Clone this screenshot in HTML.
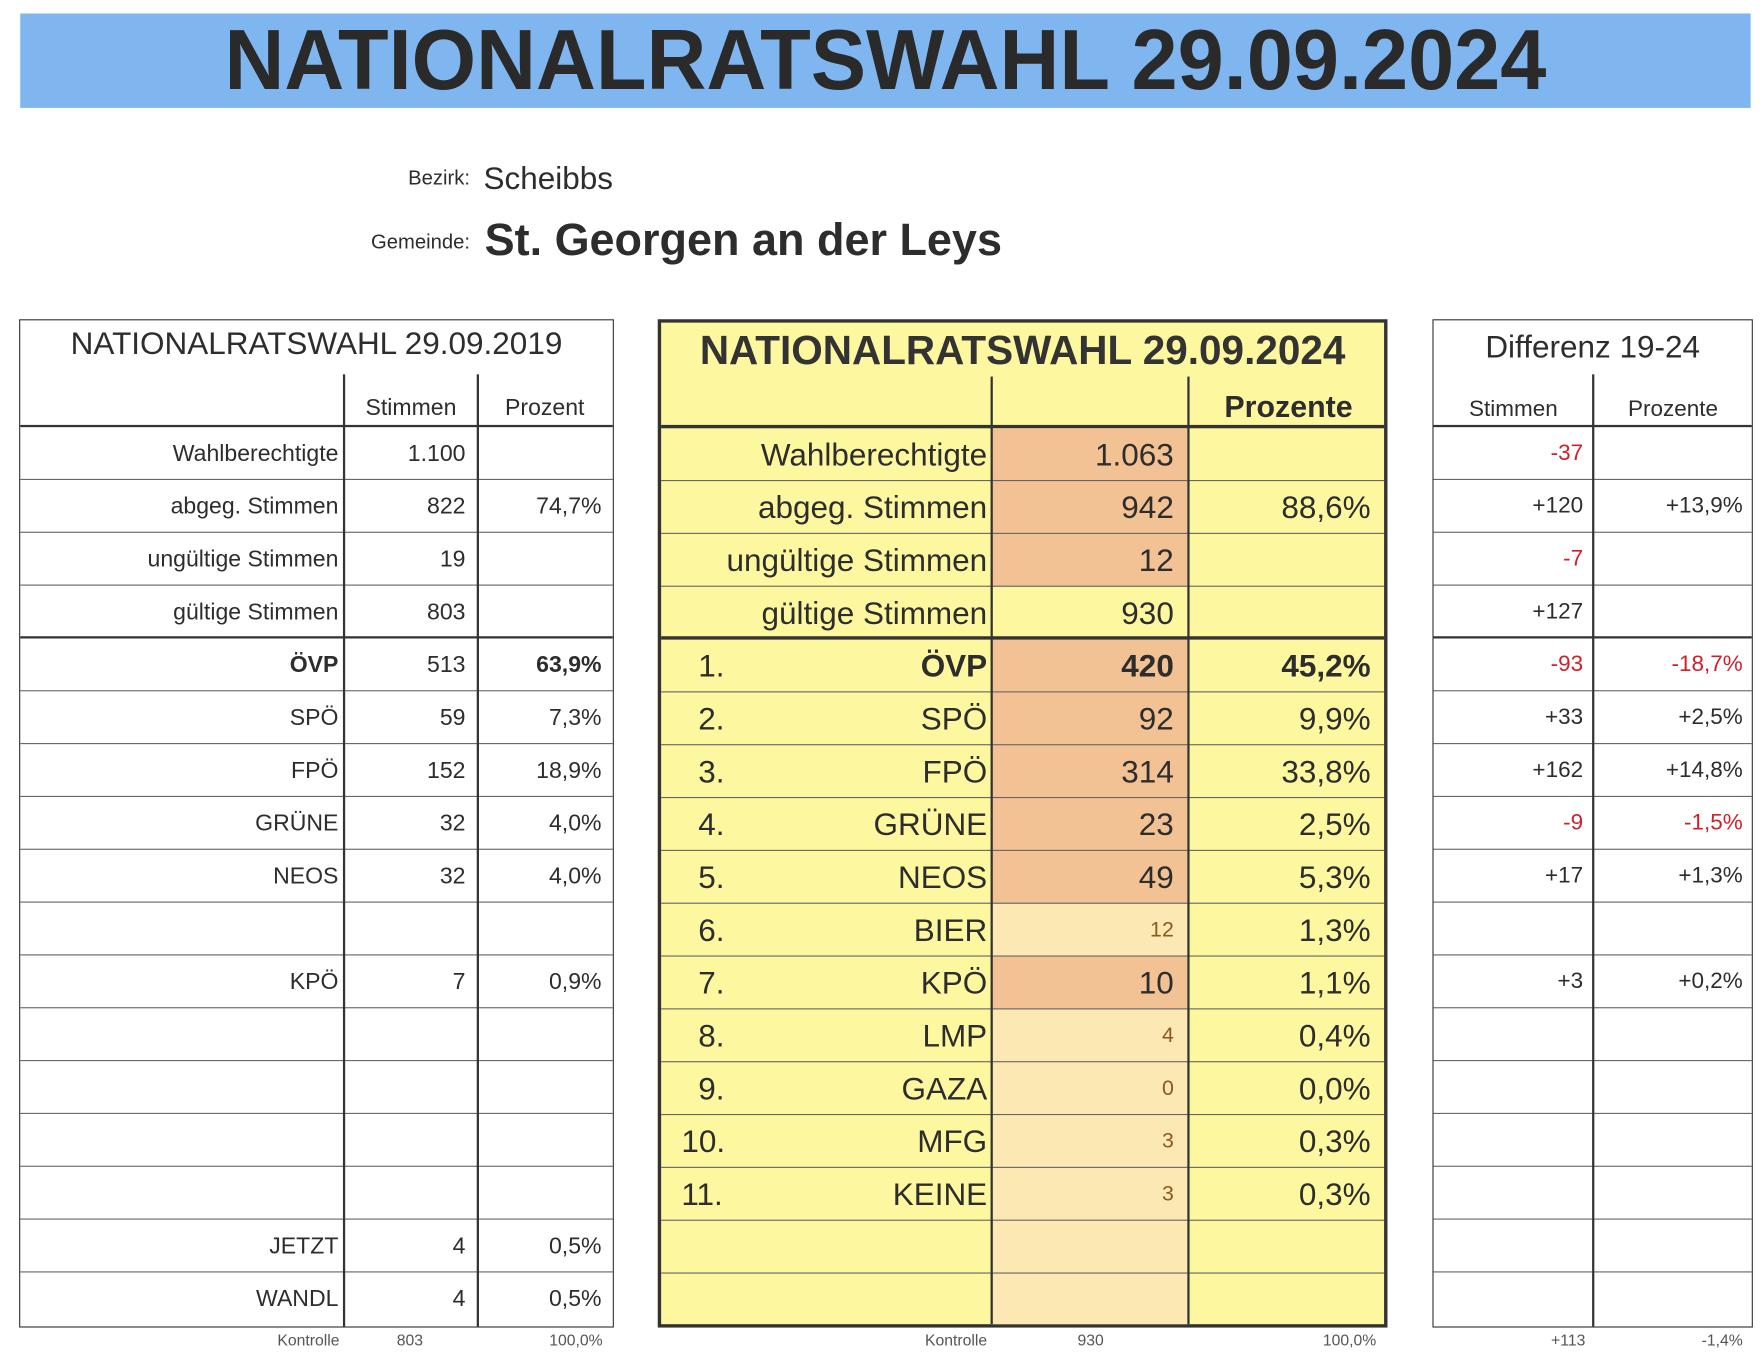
<!DOCTYPE html>
<html><head><meta charset="utf-8"><style>
body{margin:0;background:#fff;overflow:hidden;width:1763px;height:1368px}
#s{position:absolute;left:0;top:0;width:1568px;height:1217px;transform:scale(1.12436,1.1241);transform-origin:0 0;font-family:"Liberation Sans",sans-serif;color:#2d2d2d}
.a{position:absolute}
.t{position:absolute;border:1.5px solid #333;box-sizing:border-box}
.r{position:absolute;left:0;right:0;height:47px;border-bottom:1px solid #666;box-sizing:border-box}
.c{position:absolute;top:0;line-height:47px;white-space:nowrap}
.v{position:absolute;width:1.5px;background:#333}
.red{color:#d0202a}
.b{font-weight:bold}
</style></head><body><div id="s">
<div class="a" style="left:18px;top:12px;width:1539px;height:84px;background:#7fb6ef"></div>
<div class="a b" style="left:0px;top:12px;width:1575px;height:84px;line-height:84px;text-align:center;font-size:76px;color:#2a2a2a;transform:scaleX(0.97);transform-origin:center">NATIONALRATSWAHL 29.09.2024</div>
<div class="a" style="left:250px;width:168px;top:148px;text-align:right;font-size:18px">Bezirk:</div>
<div class="a" style="left:430px;top:143px;font-size:28px">Scheibbs</div>
<div class="a" style="left:250px;width:168px;top:205px;text-align:right;font-size:18px">Gemeinde:</div>
<div class="a b" style="left:431px;top:192px;font-size:40px">St. Georgen an der Leys</div>

<!-- LEFT TABLE -->
<div class="t" style="left:17px;top:284px;width:529px;height:897px;font-size:20.5px">
<div class="a" style="left:0;right:0;top:5px;text-align:center;font-size:28px">NATIONALRATSWAHL 29.09.2019</div>
<div class="a" style="left:288px;width:119px;top:66px;text-align:center">Stimmen</div>
<div class="a" style="left:407px;width:119px;top:66px;text-align:center">Prozent</div>
<div class="a" style="left:0;right:0;top:93px;height:2px;background:#333"></div>
<div class="a" style="left:0;right:0;top:95px">
<div class="r" style="top:0"><span class="c" style="right:244px">Wahlberechtigte</span><span class="c" style="right:131px">1.100</span></div>
<div class="r" style="top:47px"><span class="c" style="right:244px">abgeg. Stimmen</span><span class="c" style="right:131px">822</span><span class="c" style="right:10px">74,7%</span></div>
<div class="r" style="top:94px"><span class="c" style="right:244px">ungültige Stimmen</span><span class="c" style="right:131px">19</span></div>
<div class="r" style="top:141px;border-bottom:2px solid #333"><span class="c" style="right:244px">gültige Stimmen</span><span class="c" style="right:131px">803</span></div>
<div class="r" style="top:188px"><span class="c b" style="right:244px">ÖVP</span><span class="c" style="right:131px">513</span><span class="c b" style="right:10px">63,9%</span></div>
<div class="r" style="top:235px"><span class="c" style="right:244px">SPÖ</span><span class="c" style="right:131px">59</span><span class="c" style="right:10px">7,3%</span></div>
<div class="r" style="top:282px"><span class="c" style="right:244px">FPÖ</span><span class="c" style="right:131px">152</span><span class="c" style="right:10px">18,9%</span></div>
<div class="r" style="top:329px"><span class="c" style="right:244px">GRÜNE</span><span class="c" style="right:131px">32</span><span class="c" style="right:10px">4,0%</span></div>
<div class="r" style="top:376px"><span class="c" style="right:244px">NEOS</span><span class="c" style="right:131px">32</span><span class="c" style="right:10px">4,0%</span></div>
<div class="r" style="top:423px"></div>
<div class="r" style="top:470px"><span class="c" style="right:244px">KPÖ</span><span class="c" style="right:131px">7</span><span class="c" style="right:10px">0,9%</span></div>
<div class="r" style="top:517px"></div>
<div class="r" style="top:564px"></div>
<div class="r" style="top:611px"></div>
<div class="r" style="top:658px"></div>
<div class="r" style="top:705px"><span class="c" style="right:244px">JETZT</span><span class="c" style="right:131px">4</span><span class="c" style="right:10px">0,5%</span></div>
<div class="r" style="top:752px;border:none"><span class="c" style="right:244px">WANDL</span><span class="c" style="right:131px">4</span><span class="c" style="right:10px">0,5%</span></div>
</div>
<div class="v" style="left:287px;top:48px;bottom:0"></div>
<div class="v" style="left:406px;top:48px;bottom:0"></div>
</div>
<div class="a" style="left:200px;width:102px;top:1184px;text-align:right;font-size:14px;color:#555">Kontrolle</div>
<div class="a" style="left:305px;width:119px;top:1184px;text-align:center;font-size:14px;color:#555">803</div>
<div class="a" style="left:424px;width:112px;top:1184px;text-align:right;font-size:14px;color:#555">100,0%</div>

<!-- MIDDLE TABLE -->
<div class="t" style="left:585px;top:284px;width:649px;height:897px;border:3px solid #333;background:#fdf8a0;font-size:28px">
<div class="a b" style="left:0;right:0;top:4px;text-align:center;font-size:36px;color:#333">NATIONALRATSWAHL 29.09.2024</div>
<div class="a b" style="left:470px;width:176px;top:60px;text-align:center;font-size:27px">Prozente</div>
<div class="a" style="left:0;right:0;top:91px;height:3px;background:#333"></div>
<div class="a" style="left:293px;width:175px;top:94px;height:141px;background:#f2c294"></div>
<div class="a" style="left:293px;width:175px;top:282px;height:235px;background:#f2c294"></div>
<div class="a" style="left:293px;width:175px;top:517px;height:47px;background:#fbe8b2"></div>
<div class="a" style="left:293px;width:175px;top:564px;height:47px;background:#f2c294"></div>
<div class="a" style="left:293px;width:175px;top:611px;height:280px;background:#fbe8b2"></div>
<div class="a" style="left:0;right:0;top:94px">
<div class="r" style="top:0"><span class="c" style="right:353px">Wahlberechtigte</span><span class="c" style="right:187px">1.063</span></div>
<div class="r" style="top:47px"><span class="c" style="right:353px">abgeg. Stimmen</span><span class="c" style="right:187px">942</span><span class="c" style="right:12px">88,6%</span></div>
<div class="r" style="top:94px"><span class="c" style="right:353px">ungültige Stimmen</span><span class="c" style="right:187px">12</span></div>
<div class="r" style="top:141px;border-bottom:3px solid #333"><span class="c" style="right:353px">gültige Stimmen</span><span class="c" style="right:187px">930</span></div>
<div class="r" style="top:188px"><span class="c" style="left:33px">1.</span><span class="c b" style="right:353px">ÖVP</span><span class="c b" style="right:187px">420</span><span class="c b" style="right:12px">45,2%</span></div>
<div class="r" style="top:235px"><span class="c" style="left:33px">2.</span><span class="c" style="right:353px">SPÖ</span><span class="c" style="right:187px">92</span><span class="c" style="right:12px">9,9%</span></div>
<div class="r" style="top:282px"><span class="c" style="left:33px">3.</span><span class="c" style="right:353px">FPÖ</span><span class="c" style="right:187px">314</span><span class="c" style="right:12px">33,8%</span></div>
<div class="r" style="top:329px"><span class="c" style="left:33px">4.</span><span class="c" style="right:353px">GRÜNE</span><span class="c" style="right:187px">23</span><span class="c" style="right:12px">2,5%</span></div>
<div class="r" style="top:376px"><span class="c" style="left:33px">5.</span><span class="c" style="right:353px">NEOS</span><span class="c" style="right:187px">49</span><span class="c" style="right:12px">5,3%</span></div>
<div class="r" style="top:423px"><span class="c" style="left:33px">6.</span><span class="c" style="right:353px">BIER</span><span class="c" style="right:187px;font-size:19px;color:#8a5a20">12</span><span class="c" style="right:12px">1,3%</span></div>
<div class="r" style="top:470px"><span class="c" style="left:33px">7.</span><span class="c" style="right:353px">KPÖ</span><span class="c" style="right:187px">10</span><span class="c" style="right:12px">1,1%</span></div>
<div class="r" style="top:517px"><span class="c" style="left:33px">8.</span><span class="c" style="right:353px">LMP</span><span class="c" style="right:187px;font-size:19px;color:#8a5a20">4</span><span class="c" style="right:12px">0,4%</span></div>
<div class="r" style="top:564px"><span class="c" style="left:33px">9.</span><span class="c" style="right:353px">GAZA</span><span class="c" style="right:187px;font-size:19px;color:#8a5a20">0</span><span class="c" style="right:12px">0,0%</span></div>
<div class="r" style="top:611px"><span class="c" style="left:18px">10.</span><span class="c" style="right:353px">MFG</span><span class="c" style="right:187px;font-size:19px;color:#8a5a20">3</span><span class="c" style="right:12px">0,3%</span></div>
<div class="r" style="top:658px"><span class="c" style="left:18px">11.</span><span class="c" style="right:353px">KEINE</span><span class="c" style="right:187px;font-size:19px;color:#8a5a20">3</span><span class="c" style="right:12px">0,3%</span></div>
<div class="r" style="top:705px"></div>
<div class="r" style="top:752px;border:none"></div>
</div>
<div class="v" style="left:293px;top:48px;bottom:0;width:2px"></div>
<div class="v" style="left:468px;top:48px;bottom:0;width:2px"></div>
</div>
<div class="a" style="left:760px;width:118px;top:1184px;text-align:right;font-size:14px;color:#555">Kontrolle</div>
<div class="a" style="left:910px;width:120px;top:1184px;text-align:center;font-size:14px;color:#555">930</div>
<div class="a" style="left:1100px;width:124px;top:1184px;text-align:right;font-size:14px;color:#555">100,0%</div>

<!-- RIGHT TABLE -->
<div class="t" style="left:1274px;top:284px;width:285px;height:897px;font-size:20px">
<div class="a" style="left:0;right:0;top:8px;text-align:center;font-size:28px">Differenz 19-24</div>
<div class="a" style="left:0;width:142px;top:68px;text-align:center">Stimmen</div>
<div class="a" style="left:142px;width:142px;top:68px;text-align:center">Prozente</div>
<div class="a" style="left:0;right:0;top:93px;height:2px;background:#333"></div>
<div class="a" style="left:0;right:0;top:95px">
<div class="r" style="top:0"><span class="c red" style="right:150px">-37</span></div>
<div class="r" style="top:47px"><span class="c" style="right:150px">+120</span><span class="c" style="right:8px">+13,9%</span></div>
<div class="r" style="top:94px"><span class="c red" style="right:150px">-7</span></div>
<div class="r" style="top:141px;border-bottom:2px solid #333"><span class="c" style="right:150px">+127</span></div>
<div class="r" style="top:188px"><span class="c red" style="right:150px">-93</span><span class="c red" style="right:8px">-18,7%</span></div>
<div class="r" style="top:235px"><span class="c" style="right:150px">+33</span><span class="c" style="right:8px">+2,5%</span></div>
<div class="r" style="top:282px"><span class="c" style="right:150px">+162</span><span class="c" style="right:8px">+14,8%</span></div>
<div class="r" style="top:329px"><span class="c red" style="right:150px">-9</span><span class="c red" style="right:8px">-1,5%</span></div>
<div class="r" style="top:376px"><span class="c" style="right:150px">+17</span><span class="c" style="right:8px">+1,3%</span></div>
<div class="r" style="top:423px"></div>
<div class="r" style="top:470px"><span class="c" style="right:150px">+3</span><span class="c" style="right:8px">+0,2%</span></div>
<div class="r" style="top:517px"></div>
<div class="r" style="top:564px"></div>
<div class="r" style="top:611px"></div>
<div class="r" style="top:658px"></div>
<div class="r" style="top:705px"></div>
<div class="r" style="top:752px;border:none"></div>
</div>
<div class="v" style="left:141px;top:48px;bottom:0"></div>
</div>
<div class="a" style="left:1274px;width:136px;top:1184px;text-align:right;font-size:14px;color:#555">+113</div>
<div class="a" style="left:1420px;width:130px;top:1184px;text-align:right;font-size:14px;color:#555">-1,4%</div>
</div></body></html>
